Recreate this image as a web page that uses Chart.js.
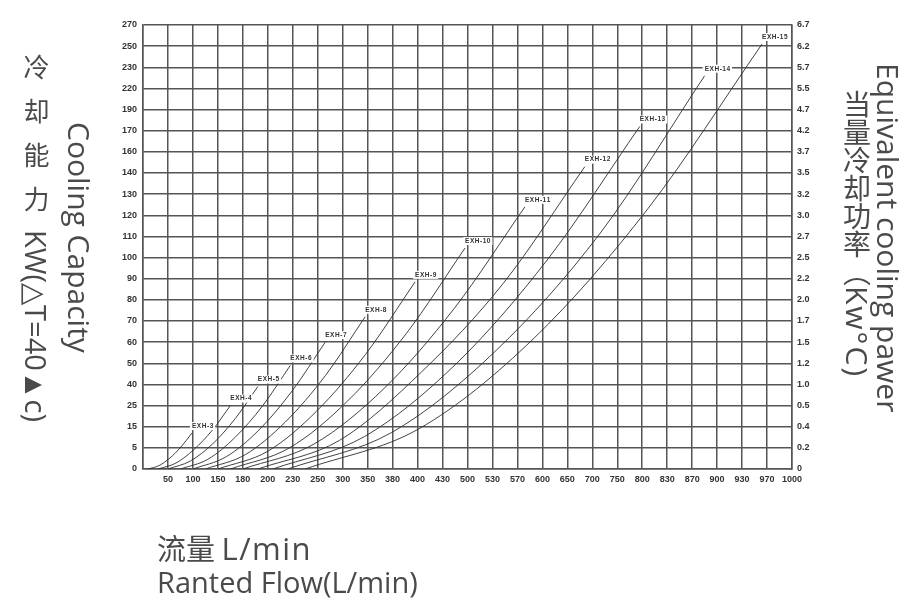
<!DOCTYPE html>
<html>
<head>
<meta charset="utf-8">
<script src="https://cdn.jsdelivr.net/npm/chart.js@4/dist/chart.umd.min.js"></script>
<style>
  html, body { margin:0; padding:0; background:#fff; }
  #wrap { position:relative; width:904px; height:600px; overflow:hidden; }
  #c { position:absolute; left:0; top:0; }
  .t { position:absolute; color:#4a4a4a; font-family:"Open Sans","Noto Sans CJK SC",sans-serif; white-space:nowrap; }
  .v { writing-mode:vertical-rl; }
  .cjk { font-family:"Noto Sans CJK SC","Open Sans",sans-serif; }
  .side { text-orientation:sideways; font-family:"Open Sans",sans-serif; }
</style>
</head>
<body>
<div id="wrap">
  <canvas id="c" width="904" height="600"></canvas>
  <div class="t v cjk" style="left:17px; top:54px; font-size:26px;"><span style="letter-spacing:18px;">冷却能力</span><span class="side" style="font-size:29px;">KW(△T=40▲c)</span></div>
  <div class="t v" style="left:59px; top:122px; font-size:30px;">Cooling Capacity</div>
  <div class="t v cjk" style="left:837px; top:90px; font-size:28px;">当量冷却功率（<span class="side" style="font-size:30px; letter-spacing:2px;">Kw°C)</span></div>
  <div class="t v" style="left:868px; top:63px; font-size:30px;">Equivalent cooling pawer</div>
  <div class="t cjk" style="left:157px; top:526px; font-size:29px;">流量 <span style="font-family:'Open Sans',sans-serif; font-size:31px; letter-spacing:1.5px;">L/min</span></div>
  <div class="t" style="left:157px; top:562px; font-size:29px;">Ranted Flow(L/min)</div>
</div>
<script>
// Tick labels (evenly spaced on the chart, non-uniform values)
const xTickLabels = ['50','100','150','180','200','230','250','300','350','380','400','430','500','530','570','600','650','700','750','800','830','870','900','930','970','1000'];
const yTickLabels = ['0','5','15','25','40','50','60','70','80','90','100','110','120','130','140','160','170','190','220','230','250','270'];
const rightTickLabels = ['0','0.2','0.4','0.5','1.0','1.2','1.5','1.7','2.0','2.2','2.5','2.7','3.0','3.2','3.5','3.7','4.2','4.7','5.5','5.7','6.2','6.7'];

// Series: flow (L/min) and cooling capacity (kW) along each curve
const seriesNames = ['EXH-3','EXH-4','EXH-5','EXH-6','EXH-7','EXH-8','EXH-9','EXH-10','EXH-11','EXH-12','EXH-13','EXH-14','EXH-15'];
const flow3  = [10, 32, 54, 76, 98];          const cap3  = [0, 0.8, 2.6, 5.4, 12];
const flow4  = [30, 66, 102, 139, 165];       const cap4  = [0, 1.4, 4.6, 13.4, 25];
const flow5  = [50, 95, 140, 171, 192];       const cap5  = [0, 1.9, 7, 18.9, 38.5];
const flow6  = [75, 130, 171, 196, 227];      const cap6  = [0, 2.3, 10.1, 25, 49];
const flow7  = [100, 160, 193, 229, 265];     const cap7  = [0, 2.9, 13.5, 35.2, 60];
const flow8  = [125, 182, 221, 265, 345];     const cap8  = [0, 3.4, 17.2, 44.1, 72];
const flow9  = [150, 200, 249, 346, 398];     const cap9  = [0, 4.2, 22.3, 54.3, 88.5];
const flow10 = [165, 226, 310, 391, 493];     const cap10 = [0, 5, 28.3, 64.1, 104.5];
const flow11 = [180, 247, 370, 463, 579];     const cap11 = [0, 6.8, 37.3, 76, 124];
const flow12 = [192, 294, 405, 547, 685];     const cap12 = [0, 8.6, 46, 87.7, 146];
const flow13 = [206, 344, 469, 611, 795];     const cap13 = [0, 10.4, 49.9, 99.3, 174];
const flow14 = [224, 379, 536, 716, 885];     const cap14 = [0, 12.3, 56.1, 111.6, 226];
const flow15 = [240, 402, 590, 807, 962];     const cap15 = [0, 14.1, 61.9, 123.2, 252];

const flows = [flow3,flow4,flow5,flow6,flow7,flow8,flow9,flow10,flow11,flow12,flow13,flow14,flow15];
const caps  = [cap3,cap4,cap5,cap6,cap7,cap8,cap9,cap10,cap11,cap12,cap13,cap14,cap15];

// axes are evenly spaced between labelled values: map values onto label positions
const xStops = [0].concat(xTickLabels.map(Number));
const yStops = yTickLabels.map(Number);
function toAxis(v, stops) {
  for (let i = 0; i < stops.length - 1; i++) {
    if (v <= stops[i + 1]) return i + (v - stops[i]) / (stops[i + 1] - stops[i]);
  }
  return stops.length - 1;
}

const datasets = seriesNames.map((name, k) => ({
  label: name,
  data: flows[k].map((f, i) => ({ x: toAxis(f, xStops), y: toAxis(caps[k][i], yStops) })),
  borderColor: '#2e2e2e',
  borderWidth: 0.9,
  pointRadius: 0,
  fill: false,
  cubicInterpolationMode: 'monotone',
  yAxisID: 'y'
}));

const tickFont = { family: "'Liberation Sans Narrow','Arial Narrow','Liberation Sans',sans-serif", size: 9, weight: 'bold' };
const gridStyle = { color: '#555', lineWidth: 1.5, drawTicks: false };

const endLabels = {
  id: 'endLabels',
  afterDatasetsDraw(chart) {
    const ctx = chart.ctx;
    ctx.save();
    ctx.font = "bold 6.5px 'Liberation Sans','DejaVu Sans',sans-serif";
    ctx.textBaseline = 'middle';
    ctx.textAlign = 'left';
    chart.data.datasets.forEach((ds, i) => {
      const meta = chart.getDatasetMeta(i);
      const pt = meta.data[meta.data.length - 1];
      const txt = ds.label.split('').join(String.fromCharCode(8202));
      const w = ctx.measureText(txt).width;
      ctx.fillStyle = '#fff';
      ctx.fillRect(pt.x - 2, pt.y - 11, w + 4, 8);
      ctx.fillStyle = '#333';
      ctx.fillText(txt, pt.x, pt.y - 7);
    });
    ctx.restore();
  }
};

new Chart(document.getElementById('c'), {
  type: 'line',
  data: { datasets },
  options: {
    responsive: false,
    devicePixelRatio: 1,
    animation: false,
    layout: { padding: { left: 0, top: 25, right: 82, bottom: 111 } },
    plugins: { legend: { display: false }, tooltip: { enabled: false } },
    scales: {
      x: {
        type: 'linear', min: 0, max: 26,
        grid: gridStyle,
        border: { color: '#555', width: 1.5 },
        afterFit: s => { s.height = 20; },
        ticks: {
          stepSize: 1, autoSkip: false, maxRotation: 0, padding: 5,
          color: '#333', font: tickFont,
          callback: v => (v >= 1 && v <= 26 ? xTickLabels[v - 1] : '')
        }
      },
      y: {
        type: 'linear', min: 0, max: 21, position: 'left',
        grid: gridStyle,
        border: { color: '#555', width: 1.5 },
        afterFit: s => { s.width = 143; },
        ticks: {
          stepSize: 1, autoSkip: false, padding: 6,
          color: '#333', font: tickFont,
          callback: v => yTickLabels[v]
        }
      },
      y2: {
        type: 'linear', min: 0, max: 21, position: 'right',
        grid: { display: false, drawTicks: false },
        border: { color: '#555', width: 1.5 },
        afterFit: s => { s.width = 30; },
        ticks: {
          stepSize: 1, autoSkip: false, padding: 5,
          color: '#333', font: tickFont,
          callback: v => rightTickLabels[v]
        }
      }
    }
  },
  plugins: [endLabels]
});
</script>
</body>
</html>
